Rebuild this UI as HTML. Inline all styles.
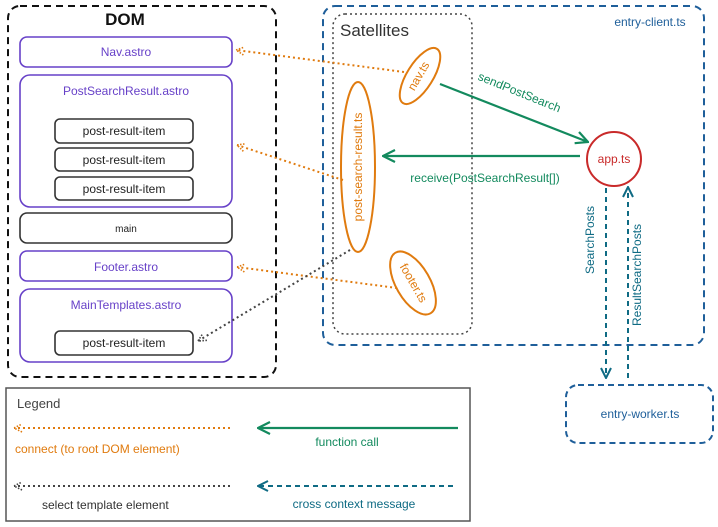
<!DOCTYPE html>
<html><head><meta charset="utf-8"><style>
html,body{margin:0;padding:0;background:#fff;}
svg{display:block;font-family:"Liberation Sans",sans-serif;}
</style></head><body>
<svg width="718" height="527" viewBox="0 0 718 527" xmlns="http://www.w3.org/2000/svg">
<defs>
<marker id="ao" markerWidth="10" markerHeight="10" refX="9" refY="5" orient="auto" markerUnits="userSpaceOnUse"><path d="M1,1 L9,5 L1,9" fill="none" stroke="#e07b0f" stroke-width="1.6" stroke-dasharray="1.5 1.5"/></marker>
<marker id="ak" markerWidth="10" markerHeight="10" refX="9" refY="5" orient="auto" markerUnits="userSpaceOnUse"><path d="M1,1 L9,5 L1,9" fill="none" stroke="#444" stroke-width="1.6" stroke-dasharray="1.5 1.5"/></marker>
<marker id="ag" markerWidth="14" markerHeight="14" refX="13" refY="7" orient="auto" markerUnits="userSpaceOnUse"><path d="M1,1 L13,7 L1,13" fill="none" stroke="#138a5e" stroke-width="2.2"/></marker>
<marker id="ab" markerWidth="12" markerHeight="12" refX="11" refY="6" orient="auto" markerUnits="userSpaceOnUse"><path d="M1,1 L11,6 L1,11" fill="none" stroke="#0f6b84" stroke-width="2"/></marker>
</defs>

<!-- DOM -->
<rect x="8" y="6" width="268" height="371" rx="12" fill="none" stroke="#111" stroke-width="2" stroke-dasharray="7 5"/>
<text x="125" y="25" font-size="17" font-weight="bold" text-anchor="middle" fill="#111">DOM</text>
<g fill="none" stroke="#6741c8" stroke-width="1.6">
<rect x="20" y="37" width="212" height="30" rx="7"/>
<rect x="20" y="75" width="212" height="132" rx="10"/>
<rect x="20" y="251" width="212" height="30" rx="7"/>
<rect x="20" y="289" width="212" height="73" rx="10"/>
</g>
<g fill="none" stroke="#333" stroke-width="1.6">
<rect x="55" y="119" width="138" height="24" rx="5"/>
<rect x="55" y="148" width="138" height="23" rx="5"/>
<rect x="55" y="177" width="138" height="23" rx="5"/>
<rect x="20" y="213" width="212" height="30" rx="7"/>
<rect x="55" y="331" width="138" height="24" rx="5"/>
</g>
<g font-size="12" fill="#6741c8" text-anchor="middle">
<text x="126" y="56">Nav.astro</text>
<text x="126" y="95">PostSearchResult.astro</text>
<text x="126" y="271">Footer.astro</text>
<text x="126" y="309">MainTemplates.astro</text>
</g>
<g font-size="12" fill="#222" text-anchor="middle">
<text x="124" y="135">post-result-item</text>
<text x="124" y="164">post-result-item</text>
<text x="124" y="193">post-result-item</text>
<text x="126" y="232" font-size="10">main</text>
<text x="124" y="347">post-result-item</text>
</g>

<!-- entry-client -->
<rect x="323" y="6" width="381" height="339" rx="12" fill="none" stroke="#1f5f9a" stroke-width="2" stroke-dasharray="7 5"/>
<text x="650" y="26" font-size="12" fill="#1f5f9a" text-anchor="middle">entry-client.ts</text>
<rect x="333" y="14" width="139" height="320" rx="12" fill="none" stroke="#444" stroke-width="1.5" stroke-dasharray="2 3"/>
<text x="340" y="36" font-size="17" fill="#333">Satellites</text>

<g fill="none" stroke="#e07b0f" stroke-width="2">
<ellipse cx="420" cy="76" rx="13" ry="32" transform="rotate(32 420 76)"/>
<ellipse cx="358" cy="167" rx="17" ry="85"/>
<ellipse cx="413" cy="283" rx="17" ry="35" transform="rotate(-30 413 283)"/>
</g>
<g fill="#e07b0f" font-size="12" text-anchor="middle">
<text transform="translate(422 78) rotate(-60)">nav.ts</text>
<text transform="translate(362 167) rotate(-90)">post-search-result.ts</text>
<text transform="translate(410 285) rotate(60)">footer.ts</text>
</g>

<circle cx="614" cy="159" r="27" fill="none" stroke="#c92a2a" stroke-width="2"/>
<text x="614" y="163" font-size="12" fill="#c92a2a" text-anchor="middle">app.ts</text>

<!-- green arrows -->
<line x1="440" y1="84" x2="588" y2="142" stroke="#138a5e" stroke-width="2.2" marker-end="url(#ag)"/>
<text transform="translate(518 96) rotate(22)" font-size="12" fill="#138a5e" text-anchor="middle">sendPostSearch</text>
<line x1="580" y1="156" x2="383" y2="156" stroke="#138a5e" stroke-width="2.2" marker-end="url(#ag)"/>
<text x="485" y="182" font-size="12" fill="#138a5e" text-anchor="middle">receive(PostSearchResult[])</text>

<!-- blue dashed -->
<line x1="606" y1="188" x2="606" y2="378" stroke="#0f6b84" stroke-width="2" stroke-dasharray="5 4" marker-end="url(#ab)"/>
<line x1="628" y1="378" x2="628" y2="187" stroke="#0f6b84" stroke-width="2" stroke-dasharray="5 4" marker-end="url(#ab)"/>
<text transform="translate(594 240) rotate(-90)" font-size="12" fill="#0f6b84" text-anchor="middle">SearchPosts</text>
<text transform="translate(641 275) rotate(-90)" font-size="12" fill="#0f6b84" text-anchor="middle">ResultSearchPosts</text>

<rect x="566" y="385" width="147" height="58" rx="12" fill="none" stroke="#1f5f9a" stroke-width="2" stroke-dasharray="6 4"/>
<text x="640" y="418" font-size="12" fill="#1f5f9a" text-anchor="middle">entry-worker.ts</text>

<!-- connectors -->
<g stroke="#e07b0f" stroke-width="2" stroke-dasharray="2 3" fill="none">
<line x1="404" y1="72" x2="236" y2="50" marker-end="url(#ao)"/>
<line x1="343" y1="180" x2="237" y2="145" marker-end="url(#ao)"/>
<line x1="397" y1="288" x2="237" y2="267" marker-end="url(#ao)"/>
</g>
<line x1="350" y1="250" x2="198" y2="341" stroke="#444" stroke-width="2" stroke-dasharray="2 3" marker-end="url(#ak)"/>

<!-- legend -->
<rect x="6" y="388" width="464" height="133" fill="none" stroke="#555" stroke-width="1.5"/>
<text x="17" y="408" font-size="13" fill="#444">Legend</text>
<line x1="230" y1="428" x2="14" y2="428" stroke="#e07b0f" stroke-width="2" stroke-dasharray="2 3" marker-end="url(#ao)"/>
<text x="15" y="453" font-size="12" fill="#e07b0f">connect (to root DOM element)</text>
<line x1="230" y1="486" x2="14" y2="486" stroke="#444" stroke-width="2" stroke-dasharray="2 3" marker-end="url(#ak)"/>
<text x="42" y="509" font-size="12" fill="#333">select template element</text>
<line x1="458" y1="428" x2="258" y2="428" stroke="#138a5e" stroke-width="2.2" marker-end="url(#ag)"/>
<text x="347" y="446" font-size="12" fill="#138a5e" text-anchor="middle">function call</text>
<line x1="453" y1="486" x2="258" y2="486" stroke="#0f6b84" stroke-width="2" stroke-dasharray="5 4" marker-end="url(#ab)"/>
<text x="354" y="508" font-size="12" fill="#0f6b84" text-anchor="middle">cross context message</text>
</svg>
</body></html>
